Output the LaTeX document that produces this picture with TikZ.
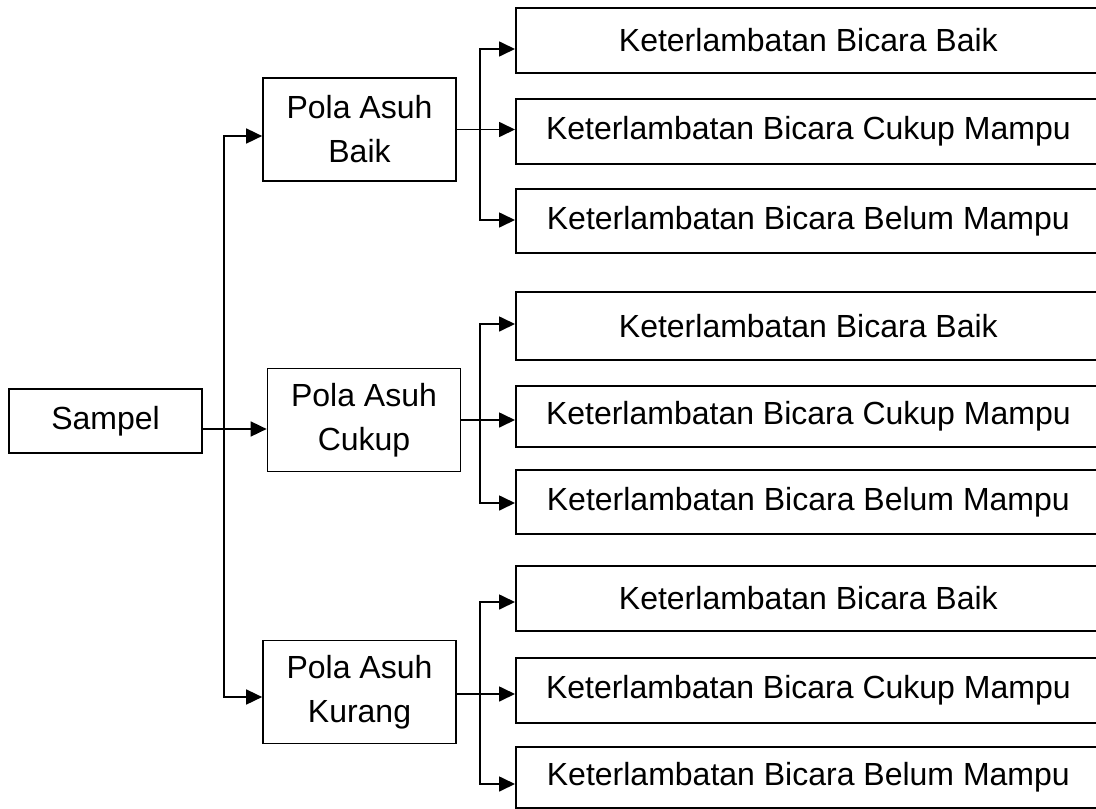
\documentclass[tikz,border=0pt]{standalone}
\usepackage{fontspec}
\setmainfont{Liberation Sans}
\usetikzlibrary{arrows.meta}
\begin{document}
\begin{tikzpicture}[x=1pt,y=-1pt, line width=1.7pt,
  box/.style={draw, inner sep=0pt, align=center, font=\fontsize{32}{44}\selectfont},
  arr/.style={-{Triangle[length=16pt,width=15pt]}},
  lbox/.style={box, minimum width=193pt, minimum height=103pt},
  rbox/.style={box, anchor=north west, minimum width=585pt}]
\clip (0,0) rectangle (1096,809);
% left nodes
\node[box, minimum width=193pt, minimum height=64pt] (s) at (105.5,421) {Sampel};
\node[lbox] (pb) at (359.5,129.5) {Pola Asuh\\Baik};
\node[lbox] (pc) at (364,420) {Pola Asuh\\Cukup};
\node[lbox] (pk) at (359.5,692) {Pola Asuh\\Kurang};
% right boxes
\node[rbox, minimum height=65pt] (r11) at (515,7) {Keterlambatan Bicara Baik};
\node[rbox, minimum height=65pt] (r12) at (515,98) {Keterlambatan Bicara Cukup Mampu};
\node[rbox, minimum height=64pt] (r13) at (515,188) {Keterlambatan Bicara Belum Mampu};
\node[rbox, minimum height=68pt] (r21) at (515,291) {Keterlambatan Bicara Baik};
\node[rbox, minimum height=61pt] (r22) at (515,385) {Keterlambatan Bicara Cukup Mampu};
\node[rbox, minimum height=64pt] (r23) at (515,469) {Keterlambatan Bicara Belum Mampu};
\node[rbox, minimum height=65pt] (r31) at (515,565) {Keterlambatan Bicara Baik};
\node[rbox, minimum height=65pt] (r32) at (515,657) {Keterlambatan Bicara Cukup Mampu};
\node[rbox, minimum height=61pt] (r33) at (515,746) {Keterlambatan Bicara Belum Mampu};
% trunk
\coordinate (t0) at (224,429);
\draw[arr] (s.east |- t0) -- (pc.west |- t0);
\draw[arr] (224,429) -- (224,136) -- (pb.west |- 0,136);
\draw[arr] (224,429) -- (224,697) -- (pk.west |- 0,697);
% group 1
\coordinate (j1) at (480,129.5);
\draw[arr] (pb.east) -- (r12.west |- pb.east);
\draw[arr] (j1) -- (480,49) -- (r11.west |- 0,49);
\draw[arr] (j1) -- (480,220) -- (r13.west |- 0,220);
% group 2
\coordinate (j2) at (480,420);
\draw[arr] (pc.east) -- (r22.west |- pc.east);
\draw[arr] (j2) -- (480,324) -- (r21.west |- 0,324);
\draw[arr] (j2) -- (480,503) -- (r23.west |- 0,503);
% group 3
\coordinate (j3) at (480,694);
\draw[arr] (pk.east |- j3) -- (r32.west |- j3);
\draw[arr] (j3) -- (480,602) -- (r31.west |- 0,602);
\draw[arr] (j3) -- (480,784) -- (r33.west |- 0,784);
\end{tikzpicture}
\end{document}
